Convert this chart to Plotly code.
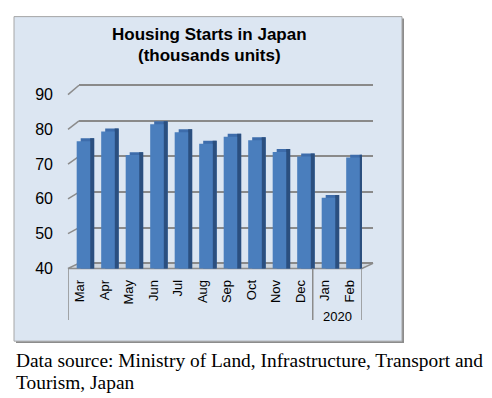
import plotly.graph_objects as go

# ---------------- data ----------------
months = ["Mar", "Apr", "May", "Jun", "Jul", "Aug", "Sep", "Oct", "Nov", "Dec", "Jan", "Feb"]
year_label = "2020"
starts = [76.6, 79.4, 72.6, 81.5, 79.2, 75.9, 77.9, 76.9, 73.5, 72.2, 60.3, 71.9]
y_ticks = [40, 50, 60, 70, 80, 90]
title_lines = ["Housing Starts in Japan", "(thousands units)"]
source_lines = ["Data source: Ministry of Land, Infrastructure, Transport and",
                "Tourism, Japan"]

# ---------------- geometry (pixels) ----------------
W, H = 492, 398
def px(p):
    return p / W
def py(p):
    return 1 - p / H

FX0, FX1 = 68, 362          # front x extent
FY_TOP, FY_BOT = 90.5, 272  # front y for 90 / 40
BX0, BX1 = 79, 373          # back wall x extent
BY_TOP, BY_BOT = 80.7, 266.7
YMIN, YMAX = 40, 90
n = len(months)
slot = (FX1 - FX0) / n
r0 = -(80 - FX0) / slot
r1 = r0 + n
scale = (FY_BOT - FY_TOP) / (YMAX - YMIN)
lift = 3.0 / scale           # top/side face shift (3px up)

def yF(v):
    return FY_BOT - (v - YMIN) * (FY_BOT - FY_TOP) / (YMAX - YMIN)
def yB(v):
    return BY_BOT - (v - YMIN) * (BY_BOT - BY_TOP) / (YMAX - YMIN)

PAD = 1.0
b_ppu = (BY_BOT - BY_TOP) / (YMAX - YMIN)

x_idx = list(range(n))
front_off, front_w = -0.135, 0.55
shift_x = 4.0 / slot

fig = go.Figure()
fig.add_trace(go.Scatter(x=[], y=[], xaxis="x", yaxis="y", showlegend=False))
fig.add_trace(go.Bar(x=x_idx, y=starts, xaxis="x2", yaxis="y2",
                     offset=front_off + shift_x, width=front_w,
                     marker=dict(color="#3d6cab", line=dict(width=0)),
                     showlegend=False, hoverinfo="skip"))
fig.add_trace(go.Bar(x=x_idx, y=starts, xaxis="x2", yaxis="y2",
                     offset=front_off + front_w, width=shift_x,
                     marker=dict(color="#2b4f7f", line=dict(width=0)),
                     showlegend=False, hoverinfo="skip"))
fig.add_trace(go.Bar(x=x_idx, y=starts, xaxis="x2", yaxis="y3",
                     offset=front_off, width=front_w,
                     marker=dict(color="#4a7ebd", line=dict(width=0)),
                     showlegend=False))

shapes = []
shapes.append(dict(type="rect", xref="paper", yref="paper", layer="below",
                   x0=px(16), x1=px(404), y0=py(11), y1=py(350),
                   fillcolor="#8c8c8c", line=dict(width=0)))
shapes.append(dict(type="rect", xref="paper", yref="paper", layer="below",
                   x0=px(14), x1=px(402), y0=py(9), y1=py(348),
                   fillcolor="#dce6f2", line=dict(color="#a6a6a6", width=1)))
shapes.append(dict(type="path", xref="paper", yref="paper", layer="below",
                   path=(f"M {px(FX0)},{py(yF(YMIN))} L {px(FX1)},{py(yF(YMIN))} "
                         f"L {px(BX1)},{py(yB(YMIN))} L {px(BX0)},{py(yB(YMIN))} Z"),
                   fillcolor="#cfd6de", line=dict(color="#8c8c8c", width=1.5)))
for v in y_ticks[1:]:
    shapes.append(dict(type="line", xref="paper", yref="paper", layer="below",
                       x0=px(FX0), y0=py(yF(v)), x1=px(BX0), y1=py(yB(v)),
                       line=dict(color="#8c8c8c", width=1.5)))
for xv in [r0, 9.5, r1]:
    shapes.append(dict(type="line", xref="x2", yref="paper",
                       x0=xv, x1=xv, y0=py(yF(YMIN)), y1=py(326),
                       line=dict(color="#8c8c8c", width=1.5)))

annotations = []
annotations.append(dict(text="<b>" + title_lines[0] + "</b>", xref="paper", yref="paper",
                        x=px(209), y=py(28), xanchor="center", yanchor="middle",
                        showarrow=False, font=dict(family="Arial", size=17, color="#000")))
annotations.append(dict(text="<b>" + title_lines[1] + "</b>", xref="paper", yref="paper",
                        x=px(209), y=py(50), xanchor="center", yanchor="middle",
                        showarrow=False, font=dict(family="Arial", size=17, color="#000")))
annotations.append(dict(text=year_label, xref="x2", yref="paper",
                        x=10.5, y=py(322), xanchor="center", yanchor="middle",
                        showarrow=False, font=dict(family="Arial", size=13, color="#000")))
annotations.append(dict(text=source_lines[0], xref="paper", yref="paper",
                        x=px(14), y=py(368), xanchor="left", yanchor="middle",
                        showarrow=False,
                        font=dict(family="Times New Roman, Liberation Serif, serif", size=19.4, color="#000")))
annotations.append(dict(text=source_lines[1], xref="paper", yref="paper",
                        x=px(14), y=py(391), xanchor="left", yanchor="middle",
                        showarrow=False,
                        font=dict(family="Times New Roman, Liberation Serif, serif", size=19.4, color="#000")))

fig.update_layout(
    width=W, height=H,
    margin=dict(l=0, r=0, t=0, b=0),
    paper_bgcolor="white",
    plot_bgcolor="rgba(0,0,0,0)",
    barmode="overlay",
    showlegend=False,
    shapes=shapes,
    annotations=annotations,
    xaxis=dict(domain=[px(BX0), px(BX1)], range=[0, 1], visible=False, fixedrange=True),
    yaxis=dict(domain=[py(BY_BOT + PAD * b_ppu), py(BY_TOP - PAD * b_ppu)],
               range=[YMIN - PAD, YMAX + PAD],
               tickvals=y_ticks, showticklabels=False, showgrid=True,
               gridcolor="#8a8a8a", gridwidth=2, zeroline=False, showline=False,
               ticks="", anchor="x"),
    xaxis2=dict(domain=[px(FX0), px(FX1)], range=[r0, r1], anchor="y2",
                tickvals=x_idx, ticktext=months, tickangle=-90,
                tickfont=dict(family="Arial", size=13, color="#000"),
                ticks="", showgrid=False, zeroline=False, showline=False,
                ticklabelstandoff=8),
    yaxis2=dict(domain=[py(FY_BOT), py(FY_TOP)], range=[YMIN - lift, YMAX - lift],
                anchor="x2", showticklabels=False, showgrid=False, zeroline=False,
                showline=False, ticks=""),
    yaxis3=dict(overlaying="y2", anchor="x2", side="left", range=[YMIN, YMAX],
                tickvals=y_ticks, tickfont=dict(family="Arial", size=16, color="#000"),
                showgrid=False, zeroline=False, showline=False, ticks="",
                ticklabelstandoff=14),
)

fig.write_html("out.html", config={"displayModeBar": False},
               post_script="document.body.style.margin='0px';")
